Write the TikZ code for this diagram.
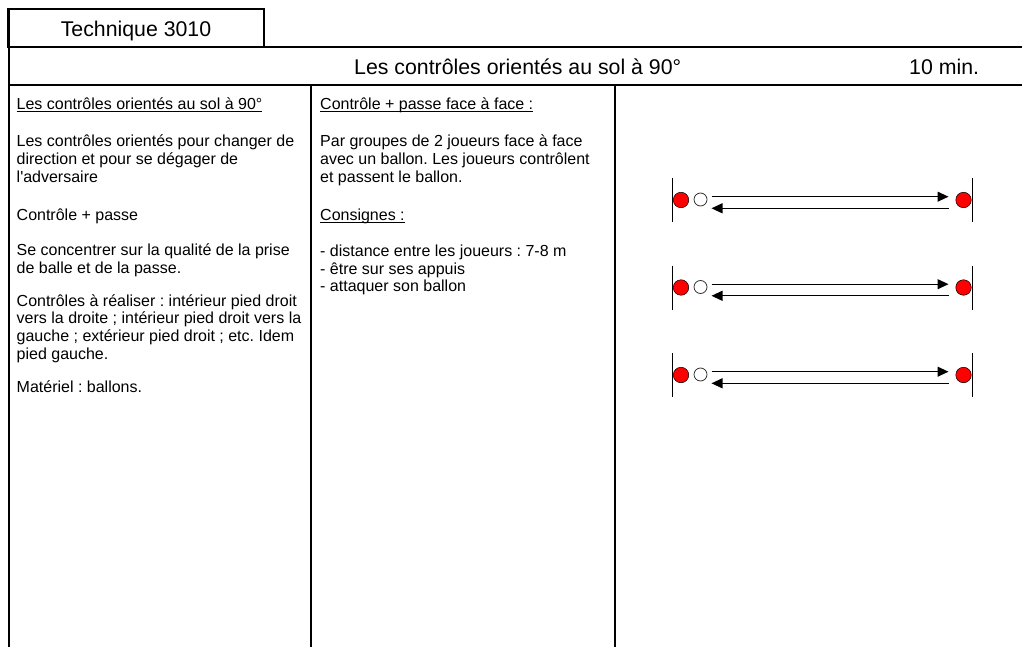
\documentclass[tikz,border=0pt]{standalone}
\usepackage{fontspec}
\setmainfont{Liberation Sans}
\usetikzlibrary{arrows.meta}
\frenchspacing

\newsavebox\soulbox
\newcommand\souligne[1]{\sbox\soulbox{#1}\rlap{\rule[-2.4pt]{\wd\soulbox}{0.9pt}}\usebox\soulbox}

\tikzset{
  cadre/.style={line width=2.2pt},
  joueur/.style={circle,fill=red,draw=black,line width=0.5pt,minimum size=15.5pt,inner sep=0pt},
  ballon/.style={circle,fill=white,draw=black!80,line width=0.8pt,minimum size=13pt,inner sep=0pt},
  texte/.style={anchor=base west,inner sep=0pt,font=\fontsize{16}{17.7}\selectfont},
  titre/.style={anchor=base west,inner sep=0pt,font=\fontsize{21.3}{24}\selectfont},
  passe/.style={-{Triangle[length=11pt,width=10pt]},line width=1.1pt},
}

\begin{document}
\begin{tikzpicture}[x=1pt,y=-1pt]
 \useasboundingbox (0,0) rectangle (1022,647);
 % cadre du tableau
 \draw[cadre] (8,9) rectangle (264,47);
 \draw[cadre] (8,47) -- (1022,47);
 \draw[cadre] (8,85) -- (1022,85);
 \draw[cadre] (9,9) -- (9,647);
 \draw[cadre] (311,85) -- (311,647);
 \draw[cadre] (615,85) -- (615,647);
 % en-tete
 \node[titre,anchor=base] (titre) at (136,36.5) {Technique 3010};
 \node[titre] (theme) at (354,74.5) {Les contrôles orientés au sol à 90°};
 \node[titre] (duree) at (909,74.5) {10 min.};
 % colonne 1
 \node[texte] (objet) at (16.5,110) {\souligne{Les contrôles orientés au sol à 90°}};
 \foreach \ligne [count=\i] in {{Les contrôles orientés pour changer de},{direction et pour se dégager de},{l\textquotesingle adversaire}}
  \node[texte] (but\i) at (16.5,{146.7+17.7*(\i-1)}) {\ligne};
 \node[texte] (forme) at (16.5,220) {Contrôle + passe};
 \foreach \ligne [count=\i] in {{Se concentrer sur la qualité de la prise},{de balle et de la passe.}}
  \node[texte] (conc\i) at (16.5,{255.5+17.7*(\i-1)}) {\ligne};
 \foreach \ligne [count=\i] in {{Contrôles à réaliser : intérieur pied droit},{vers la droite ; intérieur pied droit vers la},{gauche ; extérieur pied droit ; etc. Idem},{pied gauche.}}
  \node[texte] (ctrl\i) at (16.5,{306+17.7*(\i-1)}) {\ligne};
 \node[texte] (materiel) at (16.5,392) {Matériel : ballons.};
 % colonne 2
 \node[texte] (exo) at (320,110) {\souligne{Contrôle + passe face à face :}};
 \foreach \ligne [count=\i] in {{Par groupes de 2 joueurs face à face},{avec un ballon. Les joueurs contrôlent},{et passent le ballon.}}
  \node[texte] (orga\i) at (320,{146.7+17.7*(\i-1)}) {\ligne};
 \node[texte] (consignes) at (320,220) {\souligne{Consignes :}};
 \foreach \ligne [count=\i] in {{- distance entre les joueurs : 7-8 m},{- être sur ses appuis},{- attaquer son ballon}}
  \node[texte] (cons\i) at (320,{256.5+17.7*(\i-1)}) {\ligne};
 % colonne 3 : les paires
 \foreach \r/\yy in {1/200,2/287.5,3/375} {
  \draw[line width=1.1pt] (672.5,\yy-22) -- (672.5,\yy+22);
  \draw[line width=1.1pt] (972.5,\yy-22) -- (972.5,\yy+22);
  \node[joueur] (ja\r) at (681,\yy) {};
  \node[ballon] (b\r) at (700.5,\yy-0.5) {};
  \node[joueur] (jb\r) at (963.5,\yy) {};
  \coordinate (d\r) at (711.5,\yy-3.3);
  \coordinate (a\r) at (948.5,\yy-3.3);
  \coordinate (r\r) at (948.5,\yy+8.3);
  \coordinate (s\r) at (711.5,\yy+8.3);
  \draw[passe] (d\r) -- (a\r);
  \draw[passe] (r\r) -- (s\r);
 }
\end{tikzpicture}
\end{document}
